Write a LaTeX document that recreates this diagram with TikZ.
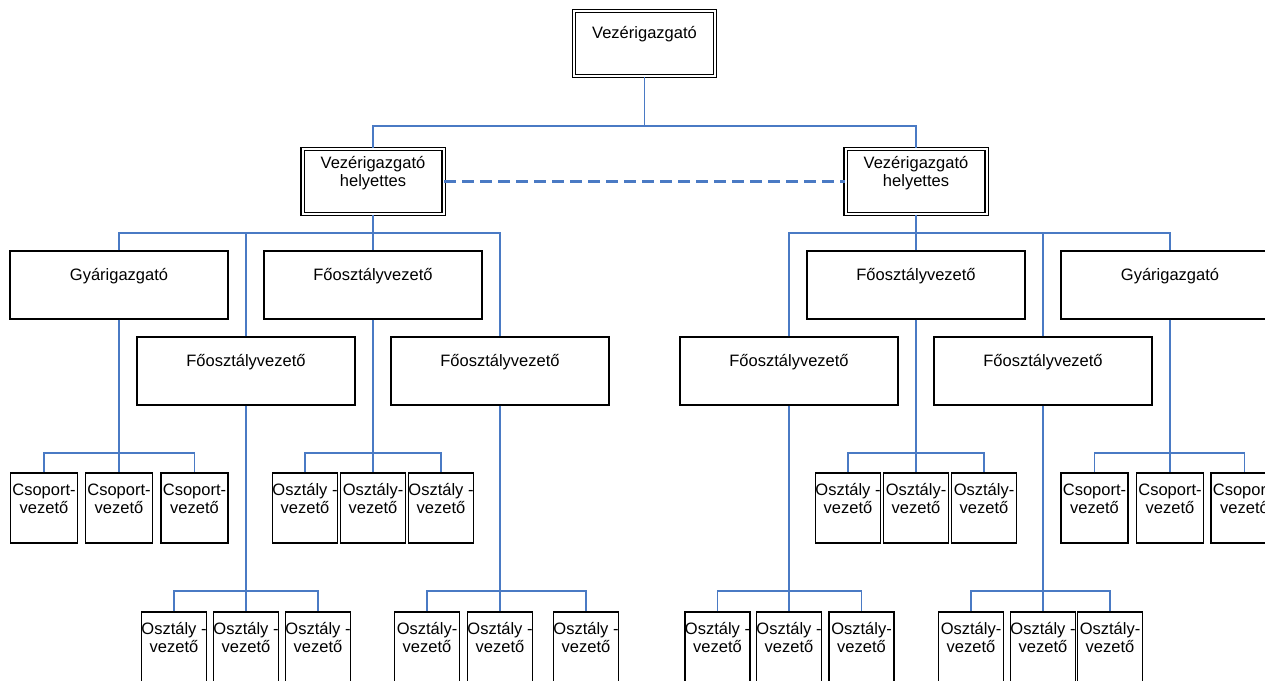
\documentclass[tikz,border=0pt]{standalone}
\usepackage{fontspec}
\setmainfont{Liberation Sans}
\definecolor{linkblue}{RGB}{74,122,196}
\newcommand{\twolines}[2]{\begin{tabular}[t]{@{}c@{}}#1\\#2\end{tabular}}
\begin{document}
\begin{tikzpicture}[x=1pt,y=-1pt,
  font=\fontsize{16.5}{18}\selectfont,
  box/.style={draw, line width=1.1pt, fill=white, inner sep=0pt},
  bigbox/.style={box, minimum width=218pt, minimum height=68pt,
    label={[anchor=base, yshift=-30pt, inner sep=0pt]north:#1}},
  dblbox/.style 2 args={draw, double, double distance=2pt, line width=1.1pt, fill=white,
    inner sep=0pt, minimum width=141pt, minimum height=65pt,
    label={[anchor=base, yshift=-#1, inner sep=0pt]north:#2}},
  smallbox/.style={box, minimum width=65pt, minimum height=70pt,
    label={[anchor=base, yshift=-23pt, inner sep=0pt]north:#1}},
  csbox/.style={box, minimum width=67pt, minimum height=70pt,
    label={[anchor=base, yshift=-23pt, inner sep=0pt]north:\twolines{Csoport-}{vezető}}},
  link/.style={draw=linkblue, line width=1.4pt},
  dashlink/.style={draw=linkblue, line width=3pt, dash pattern=on 12pt off 6pt}
]
\useasboundingbox (0,0) rectangle (1265,680);
\clip (0,0) rectangle (1265,680);
\fill[white] (0,0) rectangle (1265,680);

% level 0 and 1
\node[dblbox={28pt}{Vezérigazgató}] (top) at (644.5,43.5) {};
\node[dblbox={20pt}{\twolines{Vezérigazgató}{helyettes}}] (vh1) at (373,181.5) {};
\node[dblbox={20pt}{\twolines{Vezérigazgató}{helyettes}}] (vh2) at (916,181.5) {};

% level 2
\node[bigbox={Gyárigazgató}] (g1) at (119,285) {};
\node[bigbox={Főosztályvezető}] (f1) at (373,285) {};
\node[bigbox={Főosztályvezető}] (f3) at (916,285) {};
\node[bigbox={Gyárigazgató}] (g2) at (1170,285) {};

% level 3
\node[bigbox={Főosztályvezető}] (f2) at (246,371) {};
\node[bigbox={Főosztályvezető}] (f4) at (500,371) {};
\node[bigbox={Főosztályvezető}] (f5) at (789,371) {};
\node[bigbox={Főosztályvezető}] (f6) at (1043,371) {};

% level 4
\node[csbox] (c1) at (44,508) {};
\node[csbox] (c2) at (119,508) {};
\node[csbox] (c3) at (194.5,508) {};
\node[smallbox={\twolines{Osztály -}{vezető}}] (o1) at (305,508) {};
\node[smallbox={\twolines{Osztály-}{vezető}}] (o2) at (373,508) {};
\node[smallbox={\twolines{Osztály -}{vezető}}] (o3) at (441,508) {};
\node[smallbox={\twolines{Osztály -}{vezető}}] (o4) at (848,508) {};
\node[smallbox={\twolines{Osztály-}{vezető}}] (o5) at (916,508) {};
\node[smallbox={\twolines{Osztály-}{vezető}}] (o6) at (984,508) {};
\node[csbox] (c4) at (1094.5,508) {};
\node[csbox] (c5) at (1170,508) {};
\node[csbox] (c6) at (1244.5,508) {};

% level 5
\node[smallbox={\twolines{Osztály -}{vezető}}] (p1) at (174,647) {};
\node[smallbox={\twolines{Osztály -}{vezető}}] (p2) at (246,647) {};
\node[smallbox={\twolines{Osztály -}{vezető}}] (p3) at (318,647) {};
\node[smallbox={\twolines{Osztály-}{vezető}}] (p4) at (427,647) {};
\node[smallbox={\twolines{Osztály -}{vezető}}] (p5) at (500,647) {};
\node[smallbox={\twolines{Osztály -}{vezető}}] (p6) at (586,647) {};
\node[smallbox={\twolines{Osztály -}{vezető}}] (p7) at (717.5,647) {};
\node[smallbox={\twolines{Osztály -}{vezető}}] (p8) at (789,647) {};
\node[smallbox={\twolines{Osztály-}{vezető}}] (p9) at (861.5,647) {};
\node[smallbox={\twolines{Osztály-}{vezető}}] (p10) at (971,647) {};
\node[smallbox={\twolines{Osztály -}{vezető}}] (p11) at (1043,647) {};
\node[smallbox={\twolines{Osztály-}{vezető}}] (p12) at (1110,647) {};

% bus levels
\coordinate (b0) at (0,126);
\coordinate (b1) at (0,233);
\coordinate (b4) at (0,453);
\coordinate (b5) at (0,591);

% connectors
\draw[link] (top.south) -- (top.south |- b0);
\draw[link] (vh1.north) |- (top.south |- b0) -| (vh2.north);
\draw[dashlink] (vh1.east) -- (vh2.west);

\draw[link] (g1.north) |- (vh1.south |- b1) -| (f4.north);
\draw[link] (vh1.south) -- (f1.north);
\draw[link] (f2.north) -- (f2.north |- b1);

\draw[link] (f5.north) |- (vh2.south |- b1) -| (g2.north);
\draw[link] (vh2.south) -- (f3.north);
\draw[link] (f6.north) -- (f6.north |- b1);

\draw[link] (c1.north) |- (g1.south |- b4) -| (c3.north);
\draw[link] (g1.south) -- (c2.north);
\draw[link] (o1.north) |- (f1.south |- b4) -| (o3.north);
\draw[link] (f1.south) -- (o2.north);
\draw[link] (o4.north) |- (f3.south |- b4) -| (o6.north);
\draw[link] (f3.south) -- (o5.north);
\draw[link] (c4.north) |- (g2.south |- b4) -| (c6.north);
\draw[link] (g2.south) -- (c5.north);

\draw[link] (p1.north) |- (f2.south |- b5) -| (p3.north);
\draw[link] (f2.south) -- (p2.north);
\draw[link] (p4.north) |- (f4.south |- b5) -| (p6.north);
\draw[link] (f4.south) -- (p5.north);
\draw[link] (p7.north) |- (f5.south |- b5) -| (p9.north);
\draw[link] (f5.south) -- (p8.north);
\draw[link] (p10.north) |- (f6.south |- b5) -| (p12.north);
\draw[link] (f6.south) -- (p11.north);
\end{tikzpicture}
\end{document}
